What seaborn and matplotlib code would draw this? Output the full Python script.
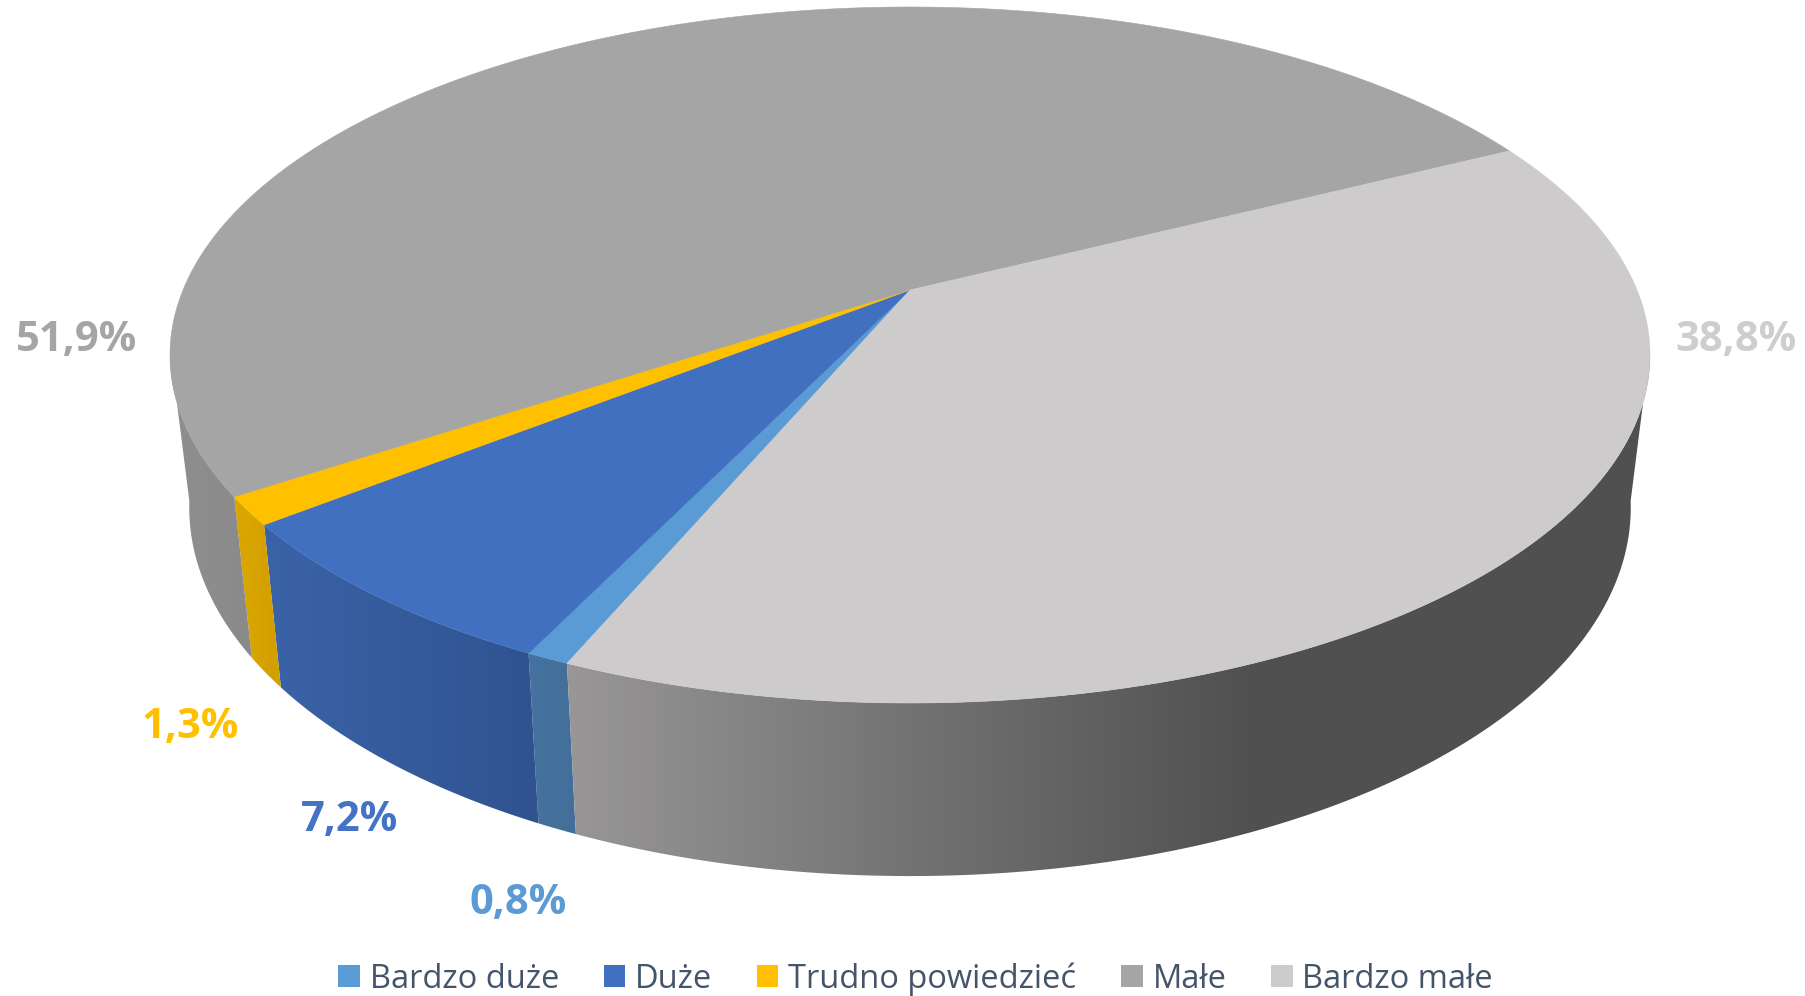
import numpy as np
import seaborn as sns
import matplotlib.pyplot as plt
from matplotlib.patches import Patch, Polygon

# Values of the chart, clockwise from the first slice
categories = ['Bardzo duże', 'Duże', 'Trudno powiedzieć', 'Małe', 'Bardzo małe']
shares = [0.8, 7.2, 1.3, 51.9, 38.8]
share_labels = ['0,8%', '7,2%', '1,3%', '51,9%', '38,8%']

sns.set_theme(style='white')
plt.rcParams['font.family'] = ['Open Sans', 'DejaVu Sans']

top_colors = sns.color_palette(['#5B9BD5', '#4270C0', '#FFC000', '#A5A5A5', '#CDCBCC'])
label_colors = ['#5B9BD5', '#4472C4', '#FFC000', '#A5A5A5', '#CFCDCE']
# gradient stops of the rim of each slice: (x pixel, colour)
rim_stops = [
    [(530, '#46729F'), (580, '#436E9A')],
    [(280, '#3A62A6'), (540, '#30538F')],
    [(250, '#D9A500'), (285, '#D09C00')],
    [(170, '#8F8F8F'), (250, '#8A8A8A')],
    [(570, '#989697'), (1250, '#505050'), (1650, '#505050')],
]
label_pos = [(518, 903), (350, 820), (190, 727), (77, 340), (1736, 340)]

# pie geometry in pixels of the figure
CX, CY = 910, 355
RX, RY = 740, 348
APEX_Y = 290
START_ANGLE = 203
RIM_SCALE = 0.974

k = (CY - APEX_Y) / RY
c = RX * np.sqrt(1 - k ** 2)


def top_points(angles):
    # perspective view of the circle, angle clockwise from the far side
    t = np.radians(angles)
    w = 1 + k * np.cos(t)
    x = CX + c * np.sin(t) / w
    y = CY - RY * (np.cos(t) + k) / w
    return x, y


def bottom_points(x, y):
    return CX + RIM_SCALE * (x - CX), y + 152.6 + 0.0588 * (y - CY)


def hex_rgb(h):
    return [int(h[i:i + 2], 16) / 255 for i in (1, 3, 5)]


fig, ax = plt.subplots(figsize=(18.06, 9.96), dpi=100)
fig.subplots_adjust(0, 0, 1, 1)
ax.set_xlim(0, 1806)
ax.set_ylim(996, 0)
ax.axis('off')

edges = START_ANGLE + np.concatenate([[0], np.cumsum(shares)]) * 3.6

# Rim first, the top of the pie covers whatever is behind it
for i in range(len(shares)):
    angles = np.linspace(edges[i], edges[i + 1], 300)
    angles = angles[np.cos(np.radians(angles)) <= -k + 0.02]
    if len(angles) < 2:
        continue
    x, y = top_points(angles)
    xb, yb = bottom_points(x, y)
    poly = Polygon(np.column_stack([np.r_[x, xb[::-1]], np.r_[y, yb[::-1]]]),
                   closed=True, facecolor='none', edgecolor='none')
    ax.add_patch(poly)
    xs = np.arange(0, 1806)
    stop_x = [s[0] for s in rim_stops[i]]
    stop_rgb = np.array([hex_rgb(s[1]) for s in rim_stops[i]])
    grad = np.stack([np.interp(xs, stop_x, stop_rgb[:, j]) for j in range(3)], axis=-1)
    im = ax.imshow(grad[np.newaxis, :, :], extent=(0, 1806, 996, 0), aspect='auto',
                   interpolation='bilinear', zorder=1)
    im.set_clip_path(poly)
ax.set_xlim(0, 1806)
ax.set_ylim(996, 0)

# Top of the pie
for i in range(len(shares)):
    x, y = top_points(np.linspace(edges[i], edges[i + 1], 400))
    pts = np.column_stack([np.r_[CX, x], np.r_[APEX_Y, y]])
    ax.add_patch(Polygon(pts, closed=True, facecolor=top_colors[i],
                         edgecolor=top_colors[i], linewidth=0.4, zorder=2))

for txt, col, (px, py) in zip(share_labels, label_colors, label_pos):
    ax.text(px, py, txt, color=col, fontsize=30, fontweight='bold',
            ha='center', va='center', zorder=3)

handles = [Patch(facecolor=col, edgecolor='none', label=name)
           for col, name in zip(top_colors, categories)]
ax.legend(handles=handles, ncol=5, loc='center', bbox_to_anchor=(0.507, 17 / 996),
          bbox_transform=fig.transFigure, frameon=False, fontsize=23.5,
          labelcolor='#44546A', handlelength=0.66, handleheight=0.66,
          handletextpad=0.3, columnspacing=1.37, borderpad=0, borderaxespad=0)

fig.savefig('out.png', dpi=100)
